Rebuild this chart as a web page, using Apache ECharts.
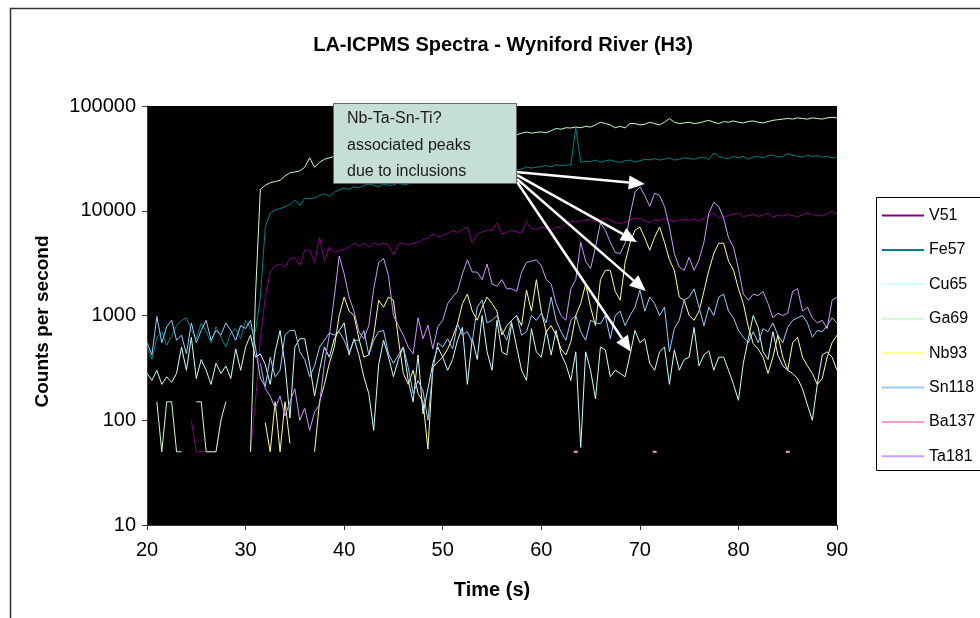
<!DOCTYPE html>
<html><head><meta charset="utf-8">
<script src="https://cdn.jsdelivr.net/npm/echarts@6/dist/echarts.min.js"></script>
<style>html,body{margin:0;padding:0;background:#fff}#c{width:980px;height:618px}</style>
</head><body><div id="c"></div>
<script>
const time = [20,20.5,21,21.5,22,22.5,23,23.5,24,24.5,25,25.5,26,26.5,27,27.5,28,28.5,29,29.5,30,30.5,31,31.5,32,32.5,33,33.5,34,34.5,35,35.5,36,36.5,37,37.5,38,38.5,39,39.5,40,40.5,41,41.5,42,42.5,43,43.5,44,44.5,45,45.5,46,46.5,47,47.5,48,48.5,49,49.5,50,50.5,51,51.5,52,52.5,53,53.5,54,54.5,55,55.5,56,56.5,57,57.5,58,58.5,59,59.5,60,60.5,61,61.5,62,62.5,63,63.5,64,64.5,65,65.5,66,66.5,67,67.5,68,68.5,69,69.5,70,70.5,71,71.5,72,72.5,73,73.5,74,74.5,75,75.5,76,76.5,77,77.5,78,78.5,79,79.5,80,80.5,81,81.5,82,82.5,83,83.5,84,84.5,85,85.5,86,86.5,87,87.5,88,88.5,89,89.5,90];

const v51 = [null,null,null,null,null,null,null,null,null,100,
50,50,50,50,50,100,null,null,null,null,
null,50,150,600,1500,2600,3000,3100,2900,3500,
3540,3000,4200,4200,3200,5600,3300,4500,4000,4200,
4220,4500,4900,4600,4900,4500,4920,4700,4900,4700,
3780,4800,4900,4700,4900,5000,5300,5500,6000,5600,
5800,6100,6500,6200,6600,7000,4900,6000,6300,6550,
6500,7650,6000,6200,6500,6300,6100,7900,6800,6600,
7000,6800,6550,7000,6800,7500,8000,7800,8000,8200,
8200,7900,8000,8500,8100,7650,7600,7700,8200,8500,
8400,8000,7700,8200,8000,8500,8200,7900,8100,8300,
8100,8300,8000,8500,9000,9530,8500,8700,9000,9300,
9500,8800,9000,9200,8800,9100,9500,8700,9100,8900,
9200,9000,8800,9100,9500,9200,9000,8900,9300,10000,9100];

const fe57 = [500,380,620,700,520,640,800,900,950,720,
600,850,700,550,780,620,500,680,750,600,
900,750,700,1500,7000,9500,10200,10500,10900,11500,
12700,11200,13200,13000,13200,14000,14500,13800,15000,15800,
16500,16000,17000,16500,17500,18000,17500,17000,18000,17500,
17600,18500,17600,18000,19000,18500,19500,19000,20000,20500,
20000,21000,21500,21000,22000,22500,22000,23000,22500,23500,
23000,24000,23500,24000,24500,24500,25000,26200,25500,26000,
26500,27000,26200,27500,27000,27300,27300,62000,29000,29500,
29500,30500,29000,30000,30500,29500,29000,30000,30500,29200,
30000,31000,30500,31500,30500,31000,32000,30500,31000,32000,
31500,31000,32000,32500,31000,35600,33000,32000,31500,33000,
32000,33000,31000,32500,33000,32000,33500,34000,32500,33000,
35000,34000,33000,32500,34000,33000,33500,32500,33000,32000,32500];

const cu65 = [280,240,300,220,260,230,280,500,300,620,
250,380,300,220,350,280,330,250,480,300,
500,650,400,430,340,220,450,720,340,105,
500,600,600,340,170,300,500,400,600,720,
850,420,600,420,260,180,80,340,580,400,
260,380,500,240,150,420,115,200,350,500,
400,300,380,580,770,220,600,380,1000,450,
300,900,450,420,850,500,300,240,750,450,
400,720,420,720,430,340,240,450,55,450,
300,160,500,470,260,300,280,260,420,720,
550,600,350,300,450,500,220,470,300,380,
400,770,330,420,460,300,400,400,300,220,
155,350,600,1000,770,450,380,700,420,330,
300,280,250,200,140,100,220,420,450,400,300];

const ga69 = [150,null,150,50,150,150,50,50,null,null,
150,150,50,50,50,100,150,null,95,null,
null,50,1500,16000,17500,18500,19000,19500,21500,23000,
23500,24000,26000,32000,26000,29000,31000,32000,33000,34000,
35000,36000,35500,37000,38000,37500,39000,40000,39000,41000,
42000,41000,43000,44000,43500,45000,46000,45000,47000,48000,
47000,49000,50000,49000,51000,50000,52000,51000,53000,52000,
53000,52000,54000,53000,52900,53000,55000,56500,55000,56000,
56500,55500,58000,61000,60000,62000,61700,63000,62000,64000,
63000,66000,70000,68000,66000,62000,64000,61700,68000,68000,
66000,67000,70000,68000,66000,70000,76000,70000,68000,69000,
70000,68000,69000,71000,73000,70000,68000,71000,70000,72000,
70000,69000,71000,72000,70000,69000,71000,73000,74000,75000,
76000,75000,77000,76000,75000,77000,76000,75000,77000,78000,77000];

const nb93 = [null,null,null,null,null,null,null,null,null,null,
null,null,null,null,null,null,null,null,null,null,
null,null,null,null,95,50,150,50,150,60,
null,null,50,null,50,150,220,350,500,1000,
1500,1100,1000,600,400,420,650,1400,1200,1500,
1400,600,280,220,300,180,150,53,320,360,
400,480,620,830,1300,1600,1100,900,1200,1500,
1300,1100,650,800,900,1000,800,1750,1100,2200,
1100,700,800,650,480,420,560,1000,1300,2000,
1200,800,2200,2700,2700,1700,1400,3200,4900,6500,
7000,5500,4200,5600,7000,5000,3400,2700,1500,1400,
1000,900,1100,1700,2700,3900,4900,4900,3300,2700,
1800,1300,780,540,480,400,280,400,650,400,
300,550,620,400,330,280,220,250,400,550,650];

const sn118 = [550,420,980,550,780,900,580,650,430,850,
550,720,900,580,720,650,850,720,580,800,
750,900,500,250,210,400,260,300,650,720,
720,450,380,260,330,500,580,680,650,700,
580,440,580,580,720,420,580,700,720,430,
350,420,500,320,180,240,190,100,300,550,
500,600,480,830,650,700,560,1200,1400,850,
900,1000,720,580,900,1000,650,700,1000,900,
1050,850,1500,900,700,580,900,1000,700,580,
900,850,830,1000,600,1000,1100,800,1000,1200,
1750,1100,1500,1300,1000,1200,450,750,900,1400,
1500,1800,1200,800,1200,1000,1500,1600,1100,950,
720,620,550,700,550,750,700,850,650,550,
770,900,950,1000,850,620,720,700,800,950,850];

const ba137 = [null,null,null,null,null,null,null,null,null,null,
null,null,null,null,null,null,null,null,null,null,
null,null,null,null,null,null,null,null,null,null,
null,null,null,null,null,null,null,null,null,null,
null,null,null,null,null,null,null,null,null,null,
null,null,null,null,null,null,null,null,null,null,
null,null,null,null,null,null,null,null,null,null,
null,null,null,null,null,null,null,null,null,null,
null,null,null,null,null,null,null,50,null,null,
null,null,null,null,null,null,null,null,null,null,
null,null,null,50,null,null,null,null,null,null,
null,null,null,null,null,null,null,null,null,null,
null,null,null,null,null,null,null,null,null,null,
50,null,null,null,null,null,null,null,null,null,null];

const ta181 = [null,null,null,null,null,null,null,null,null,null,
null,null,null,null,null,null,null,null,null,null,
null,null,null,350,200,170,130,170,110,150,
200,100,130,80,120,140,350,650,1500,3700,
2500,1500,1100,700,600,800,1800,3200,3500,2400,
1000,800,650,500,430,950,600,810,480,780,
900,1300,1500,1700,2500,3400,2600,2600,2200,3100,
2000,1900,2200,1800,1800,1700,2600,3200,3300,3400,
3000,2200,2000,1300,1000,900,1800,2200,5000,3300,
2800,4500,7700,6500,5000,4000,3900,4900,9000,15000,
16900,14000,11000,14700,14000,11000,7000,3900,2900,2700,
3600,2700,3400,5000,9500,12000,11000,8500,5500,4500,
2800,1600,1400,1600,1550,1700,1300,950,1050,1000,
1050,1700,1800,1100,1200,950,850,900,750,1400,1500];

const seriesNames = ['V51','Fe57','Cu65','Ga69','Nb93','Sn118','Ba137','Ta181'];
const seriesValues = [v51, fe57, cu65, ga69, nb93, sn118, ba137, ta181];
const seriesColors = ['#800080','#008080','#ccffff','#ccffcc','#ffff99','#99ccff','#ff99cc','#cc99ff'];
const yTicks = [10,100,1000,10000,100000];

const noteLines = ['Nb-Ta-Sn-Ti?','associated peaks','due to inclusions'];
// annotation arrows in data coordinates: [start, tip]
const arrows = [
  [[57.44,23400],[70.5,18000]],
  [[57.54,21900],[69.7,5040]],
  [[57.54,20100],[70.6,1710]],
  [[57.54,18800],[69.1,450]]
];

const FONT = '"Liberation Sans", Arial, sans-serif';
const chart = echarts.init(document.getElementById('c'), null, {renderer:'canvas'});

const series = seriesNames.map((name, k) => {
  const isBa = name === 'Ba137';
  return {
    name, type: 'line',
    data: time.map((t, i) => [t, seriesValues[k][i]]),
    connectNulls: false,
    showSymbol: isBa, showAllSymbol: true,
    symbol: 'rect', symbolSize: [4, 2],
    itemStyle: {color: seriesColors[k]},
    lineStyle: {color: seriesColors[k], width: 1},
    emphasis: {disabled: true},
    animation: false,
    z: 2 + k
  };
});

chart.setOption({
  animation: false,
  backgroundColor: '#fff',
  title: {
    text: 'LA-ICPMS Spectra - Wyniford River (H3)',
    left: 498, top: 30, textAlign: 'center',
    textStyle: {fontFamily: FONT, fontSize: 20, fontWeight: 'bold', color: '#000'}
  },
  grid: {left: 147, right: 143, top: 106, bottom: 93, show: true,
    backgroundColor: '#000', borderWidth: 0, containLabel: false, outerBoundsMode: 'none'},
  legend: {
    orient: 'vertical', left: 882, top: 207.5, padding: 0,
    itemWidth: 42, itemHeight: 2, itemGap: 18.4, icon: 'rect',
    data: seriesNames,
    textStyle: {fontFamily: FONT, fontSize: 16, color: '#000', lineHeight: 16},
    z: 10, selectedMode: false
  },
  xAxis: {
    type: 'value', min: 20, max: 90, interval: 10,
    name: 'Time (s)', nameLocation: 'middle', nameGap: 55,
    nameTextStyle: {fontFamily: FONT, fontSize: 20, fontWeight: 'bold', color: '#000'},
    axisLine: {show: true, lineStyle: {color: '#333', width: 1}},
    axisTick: {show: true, length: 5, lineStyle: {color: '#333'}},
    axisLabel: {fontFamily: FONT, fontSize: 20, color: '#000', margin: 15},
    splitLine: {show: false}
  },
  yAxis: {
    type: 'log', logBase: 10, min: yTicks[0], max: yTicks[yTicks.length-1],
    name: 'Counts per second', nameLocation: 'middle', nameGap: 95, nameRotate: 90,
    nameTextStyle: {fontFamily: FONT, fontSize: 19, fontWeight: 'bold', color: '#000', padding: [0, 12, 0, 0]},
    axisLine: {show: true, lineStyle: {color: '#333', width: 1}},
    axisTick: {show: true, length: 5, inside: false, lineStyle: {color: '#333'}},
    axisLabel: {fontFamily: FONT, fontSize: 20, color: '#000', margin: 11,
      formatter: v => String(Math.round(v))},
    splitLine: {show: false}, minorTick: {show: false}
  },
  series
});

function arrowElems(p1, p2, idx) {
  const dx = p2[0]-p1[0], dy = p2[1]-p1[1];
  const L = Math.sqrt(dx*dx+dy*dy), ux = dx/L, uy = dy/L;
  const hl = 16, hw = 7;
  const bx = p2[0]-ux*hl, by = p2[1]-uy*hl;
  return [
    {type:'line', id:'al'+idx, z:100, shape:{x1:p1[0], y1:p1[1], x2:bx, y2:by},
      style:{stroke:'#fff', lineWidth:2.5}},
    {type:'polygon', id:'ah'+idx, z:100, shape:{points:[[p2[0],p2[1]],[bx-uy*hw, by+ux*hw],[bx+uy*hw, by-ux*hw]]},
      style:{fill:'#fff'}}
  ];
}

const g = [
  {type:'rect', id:'frame', z:0, silent:true, shape:{x:10.5, y:8.5, width:1000, height:700},
    style:{fill:null, stroke:'#333', lineWidth:1.5}},
  {type:'rect', id:'legbox', z:1, silent:true, shape:{x:876.5, y:197.5, width:200, height:273},
    style:{fill:'#fff', stroke:'#000', lineWidth:1}},
  {type:'rect', id:'note', z:101, shape:{x:333.5, y:103.5, width:183, height:80},
    style:{fill:'#c6dfd4', stroke:'#666', lineWidth:1}}
];
noteLines.forEach((s, i) => {
  g.push({type:'text', id:'nt'+i, z:102, x:347, y:119 + i*26.5,
    style:{text:s, font:'16px ' + FONT, fill:'#1a1a1a', textVerticalAlign:'middle', verticalAlign:'middle'}});
});
arrows.forEach((a, i) => {
  const p1 = chart.convertToPixel({gridIndex:0}, a[0]);
  const p2 = chart.convertToPixel({gridIndex:0}, a[1]);
  arrowElems(p1, p2, i).forEach(e => g.push(e));
});
chart.setOption({graphic: g});
</script></body></html>
